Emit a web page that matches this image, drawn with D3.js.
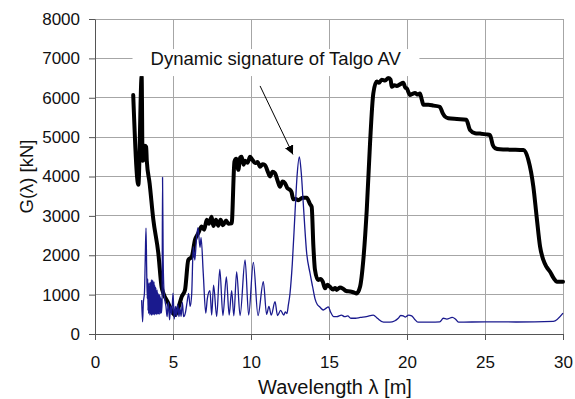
<!DOCTYPE html>
<html>
<head>
<meta charset="utf-8">
<script src="https://cdn.jsdelivr.net/npm/d3@7"></script>
<style>
body { margin: 0; background: #fff; }
svg { display: block; font-family: "Liberation Sans", Arial, sans-serif; }
</style>
</head>
<body>
<svg width="575" height="399"></svg>
<script>
// envelope curve (thick black): wavelength [m], G [kN]
const envLambda = [2.45, 2.78, 2.99, 3.05, 3.12, 3.2, 3.28, 3.32, 3.5, 3.74, 4.06, 4.27, 4.38, 4.7, 4.9, 5.13, 5.34, 5.56, 5.77, 5.98,
  6.2, 6.41, 6.62, 6.84, 7.0, 7.16, 7.3, 7.48, 7.58, 7.75, 7.9, 8.05, 8.2, 8.4, 8.55, 8.76, 8.94, 9.05, 9.19, 9.3,
  9.4, 9.52, 9.62, 9.78, 9.94, 10.1, 10.26, 10.42, 10.58, 10.74, 10.9, 11.05, 11.22, 11.38, 11.54, 11.7, 11.86, 12.02, 12.18, 12.34,
  12.5, 12.6, 12.71, 12.87, 13.03, 13.3, 13.57, 13.78, 13.89, 14.0, 14.1, 14.3, 14.45, 14.6, 14.74, 14.9, 15.06, 15.25, 15.4, 15.49,
  15.7, 15.9, 16.1, 16.35, 16.55, 16.77, 16.99, 17.2, 17.42, 17.63, 17.84, 18.06, 18.2, 18.38, 18.6, 18.8, 18.95, 19.02, 19.2, 19.34,
  19.55, 19.76, 19.9, 19.98, 20.19, 20.35, 20.51, 20.7, 20.83, 20.95, 21.05, 21.37, 21.7, 22.1, 22.3, 22.44, 22.65, 23.2, 23.8, 24.04,
  24.36, 24.7, 25.1, 25.32, 25.5, 25.64, 25.96, 26.7, 27.46, 27.78, 28.1, 28.31, 28.53, 28.74, 28.95, 29.17, 29.4, 29.6, 30.0];
const envG = [6070, 3790, 6540, 4400, 4430, 4780, 4750, 4400, 3830, 2900, 2050, 1190, 1040, 780, 600, 480, 660, 950, 1120, 1880,
  1960, 2390, 2560, 2730, 2650, 2900, 2800, 2980, 2740, 2900, 2750, 2900, 2760, 2880, 2800, 2810, 4380, 4450, 4170, 4480,
  4500, 4300, 4400, 4350, 4500, 4420, 4340, 4370, 4250, 4310, 4290, 4150, 4000, 4120, 4080, 3900, 3740, 3870, 3830, 3700,
  3660, 3600, 3420, 3430, 3400, 3460, 3460, 3300, 3230, 2220, 1630, 1370, 1400, 1330, 1160, 1250, 1200, 1130, 1170, 1120,
  1180, 1150, 1090, 1080, 1060, 1030, 1200, 1880, 3150, 4840, 6110, 6410, 6380, 6460, 6440, 6500, 6460, 6280, 6320, 6300,
  6340, 6380, 6250, 6240, 6070, 6100, 6120, 6080, 6110, 5950, 5820, 5820, 5800, 5770, 5600, 5520, 5480, 5460, 5440, 5180,
  5100, 5090, 5070, 5050, 4800, 4720, 4690, 4680, 4670, 4420, 3740, 2980, 2220, 1880, 1700, 1580, 1420, 1330, 1330];

// dynamic signature of Talgo AV (thin blue)
const sigLambda = [2.99, 3.05, 3.1, 3.17, 3.22, 3.27, 3.31, 3.35,
  3.38, 3.40, 3.42, 3.44, 3.46, 3.48, 3.50, 3.52, 3.54, 3.56, 3.58, 3.60, 3.62, 3.64, 3.66, 3.68, 3.70, 3.72, 3.74, 3.76,
  3.78, 3.80, 3.82, 3.84, 3.86, 3.88, 3.90, 3.92, 3.94, 3.96, 3.98, 4.00, 4.02, 4.04, 4.06, 4.08, 4.10, 4.12, 4.14, 4.16,
  4.18, 4.20, 4.23, 4.26, 4.3, 4.33, 4.37, 4.42,
  4.48, 4.55, 4.62, 4.7, 4.78, 4.85, 4.92, 5.0, 5.08, 5.15, 5.22, 5.3, 5.38, 5.45, 5.52, 5.6, 5.68, 5.8, 5.9, 6.0,
  6.1, 6.2, 6.3, 6.4, 6.5, 6.6, 6.73, 6.8, 6.94, 7.1, 7.2, 7.37, 7.48, 7.6, 7.8, 8.0, 8.2, 8.42, 8.6, 8.76,
  8.9, 9.08, 9.3, 9.62, 9.85, 10.15, 10.45, 10.79, 11.0, 11.15, 11.3, 11.54, 11.7, 11.9, 12.1, 12.2, 12.3, 12.4, 12.5, 12.65,
  12.82, 12.95, 13.1, 13.22, 13.35, 13.57, 13.78, 13.95, 14.1, 14.25, 14.4, 14.64, 14.8, 14.96, 15.1, 15.3, 15.5, 15.8, 16.0, 16.2,
  16.4, 16.7, 17.0, 17.4, 17.84, 18.1, 18.5, 18.9, 19.2, 19.44, 19.6, 19.76, 19.9, 20.1, 20.3, 20.5, 20.7, 21.5, 22.1, 22.33,
  22.55, 22.9, 23.1, 23.3, 25.0, 27.0, 29.38, 30.0];
const sigG = [860, 310, 800, 1040, 1880, 2690, 1700, 900,
  1400, 600, 1250, 520, 1300, 560, 1200, 480, 1320, 530, 1280, 500, 1380, 470, 1350, 520, 1370, 490, 1300, 530,
  1330, 480, 1250, 540, 1200, 500, 1180, 520, 1100, 490, 1120, 560, 1050, 500, 1020, 540, 980, 500, 1000, 580,
  950, 520, 900, 540, 800, 3980, 1880, 1120,
  860, 700, 440, 800, 360, 700, 500, 1040, 380, 700, 450, 750, 440, 650, 450, 800, 440, 550, 800, 1030,
  700, 1030, 2220, 1880, 2400, 2700, 2200, 2450, 1540, 530, 900, 1100, 480, 1240, 450, 1640, 470, 1450, 480, 1100,
  460, 1580, 470, 1880, 480, 1820, 470, 1330, 500, 700, 480, 820, 470, 600, 480, 560, 520, 750, 1030, 1800,
  3070, 4000, 4500, 4100, 3320, 2050, 1550, 1200, 900, 750, 690, 610, 650, 690, 560, 440, 440, 480, 440, 460,
  400, 400, 420, 440, 480, 400, 300, 300, 330, 400, 470, 460, 430, 480, 460, 370, 300, 300, 310, 400,
  380, 420, 380, 300, 310, 305, 320, 530];

const xTicks = [0, 5, 10, 15, 20, 25, 30];
const yTicks = [0, 1000, 2000, 3000, 4000, 5000, 6000, 7000, 8000];

const width = 575;
const height = 399;
const margin = ({ top: 19, right: 12, bottom: 65, left: 95 });

const x = d3.scaleLinear()
    .domain([0, 30])
    .range([margin.left, width - margin.right]);

const y = d3.scaleLinear()
    .domain([0, 8000])
    .range([height - margin.bottom, margin.top]);

const svg = d3.select("svg")
    .attr("viewBox", [0, 0, width, height]);

// grid
svg.append("g")
    .attr("stroke", "#a6a6a6")
    .attr("shape-rendering", "crispEdges")
    .call(g => g.selectAll("line.h")
        .data(yTicks.slice(1))
        .join("line")
        .attr("class", "h")
        .attr("x1", x(0)).attr("x2", x(30))
        .attr("y1", d => y(d)).attr("y2", d => y(d)))
    .call(g => g.selectAll("line.v")
        .data(xTicks.slice(1))
        .join("line")
        .attr("class", "v")
        .attr("y1", y(0)).attr("y2", y(8000))
        .attr("x1", d => x(d)).attr("x2", d => x(d)));

const xAxis = g => g
    .attr("transform", `translate(0,${y(0)})`)
    .call(d3.axisBottom(x).tickValues(xTicks).tickSize(6).tickPadding(16).tickSizeOuter(0))
    .call(g => g.selectAll("line, path").attr("stroke", "#555"))
    .call(g => g.selectAll("text").attr("font-size", 17).attr("fill", "#111"));

const yAxis = g => g
    .attr("transform", `translate(${x(0)},0)`)
    .call(d3.axisLeft(y).tickValues(yTicks).tickFormat(d3.format("d")).tickSize(6).tickPadding(9).tickSizeOuter(0))
    .call(g => g.selectAll("line, path").attr("stroke", "#555"))
    .call(g => g.selectAll("text").attr("font-size", 17).attr("fill", "#111"));

svg.append("g").call(xAxis);
svg.append("g").call(yAxis);
svg.selectAll(".tick text").attr("font-family", "Liberation Sans, Arial, sans-serif");

const line = d3.line()
    .curve(d3.curveMonotoneX)
    .x(d => x(d[0]))
    .y(d => y(d[1]));

const envelope = envLambda.map((d, i) => [d, envG[i]]);
const signature = sigLambda.map((d, i) => [d, sigG[i]]);

svg.append("path")
    .datum(envelope)
    .attr("fill", "none")
    .attr("stroke", "#000")
    .attr("stroke-width", 4)
    .attr("stroke-linejoin", "round")
    .attr("stroke-linecap", "round")
    .attr("d", line);

svg.append("path")
    .datum(signature)
    .attr("fill", "none")
    .attr("stroke", "#1a1a8e")
    .attr("stroke-width", 1.3)
    .attr("stroke-linejoin", "round")
    .attr("d", line);

// annotation
const note = svg.append("g");
const noteBox = note.append("rect").attr("fill", "#fff");
const noteText = note.append("text")
    .attr("x", x(11.58))
    .attr("y", y(6830))
    .attr("text-anchor", "middle")
    .attr("font-size", 18.5)
    .attr("fill", "#111")
    .text("Dynamic signature of Talgo AV");
const bb = noteText.node().getBBox();
noteBox
    .attr("x", bb.x - 18)
    .attr("y", bb.y + 1)
    .attr("width", bb.width + 36)
    .attr("height", bb.height + 6);

svg.append("defs").append("marker")
    .attr("id", "arrow")
    .attr("viewBox", "0 0 10 10")
    .attr("refX", 10).attr("refY", 5)
    .attr("markerWidth", 9).attr("markerHeight", 9)
    .attr("markerUnits", "userSpaceOnUse")
    .attr("orient", "auto")
    .append("path")
    .attr("d", "M0,0L10,5L0,10z")
    .attr("fill", "#000");

svg.append("line")
    .attr("x1", x(10.58)).attr("y1", y(6300))
    .attr("x2", x(12.69)).attr("y2", y(4560))
    .attr("stroke", "#000")
    .attr("stroke-width", 1)
    .attr("marker-end", "url(#arrow)");

// axis titles
svg.append("text")
    .attr("transform", `translate(33,${(y(0) + y(8000)) / 2}) rotate(-90)`)
    .attr("text-anchor", "middle")
    .attr("font-size", 18.5)
    .attr("fill", "#111")
    .text("G(λ) [kN]");

svg.append("text")
    .attr("x", 335)
    .attr("y", 394)
    .attr("text-anchor", "middle")
    .attr("font-size", 20)
    .attr("fill", "#111")
    .text("Wavelength λ [m]");
</script>
</body>
</html>
